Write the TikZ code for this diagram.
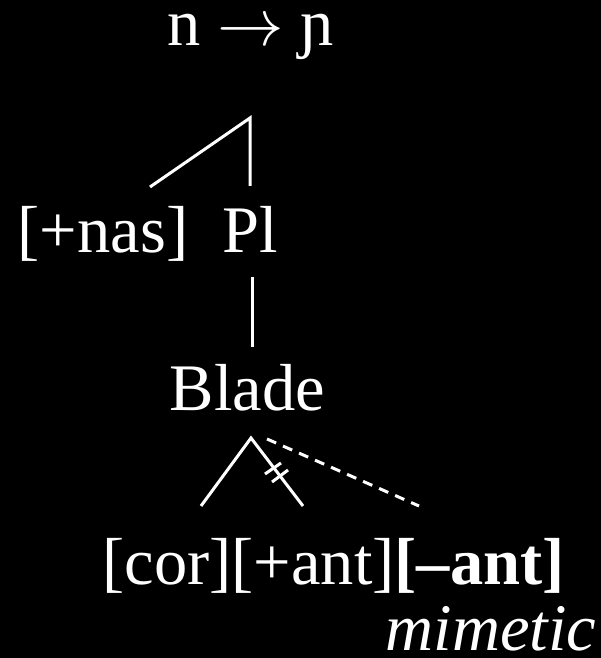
\documentclass[tikz,border=0pt]{standalone}
\usepackage{fontspec}
\usepackage{graphicx}
\setmainfont{Liberation Serif}
\newcommand{\bigarrowsym}{\scalebox{6.65}{\fontsize{10}{12}\selectfont$\rightarrow$}}
\begin{document}
\begin{tikzpicture}[x=1pt,y=1pt,
  lbl/.style={text=white,inner sep=0pt,anchor=base,font=\fontsize{66.5}{78}\selectfont},
  ln/.style={white,line width=3pt},
  dln/.style={white,line width=3pt,dash pattern=on 10pt off 7.5pt}]
\fill[black] (0,0) rectangle (601,658);
\useasboundingbox (0,0) rectangle (601,658);
\node[lbl,text height=40pt] (top) at (250.5,612) {n \bigarrowsym{} ɲ};
\node[lbl] (nas) at (103,405) {[+nas]};
\node[lbl] (pl) at (250,405) {Pl};
\node[lbl] (blade) at (247.5,247) {Blade};
\node[lbl] (feat) at (333.5,73) {[cor][+ant]\textbf{[–ant]}};
\node[lbl,font=\fontsize{66.5}{78}\selectfont\itshape,text height=36pt,text depth=0pt] (mim) at (491,7) {mimetic};
% Pl tree
\coordinate (apexA) at (250,540);
\coordinate (nasT) at (150,471);
\coordinate (plT) at (250,472);
\draw[ln] (nasT) -- (apexA) -- (plT);
% Pl - Blade
\coordinate (plB) at (252,381);
\coordinate (bladeT) at (252,311);
\draw[ln] (plB) -- (bladeT);
% Blade tree
\coordinate (apexB) at (251,220);
\coordinate (corT) at (201,152);
\coordinate (antT) at (303,152);
\coordinate (dashS) at (267,219);
\coordinate (mantT) at (419,152);
\draw[ln] (corT) -- (apexB) -- (antT);
\draw[dln] (dashS) -- (mantT);
\coordinate (t1a) at (265,184);
\coordinate (t1b) at (281,195);
\coordinate (t2a) at (272,176);
\coordinate (t2b) at (288,188);
\draw[ln] (t1a) -- (t1b);
\draw[ln] (t2a) -- (t2b);
\end{tikzpicture}
\end{document}
